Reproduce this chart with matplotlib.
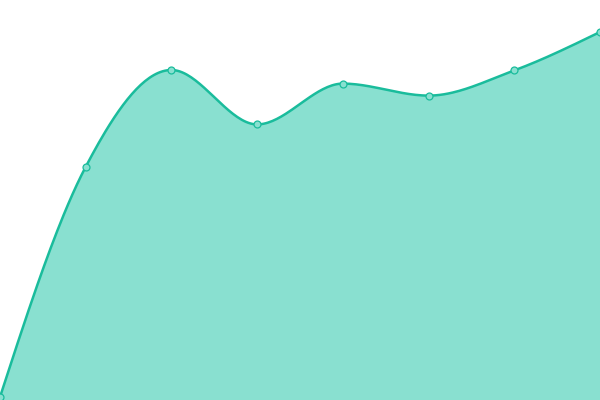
import numpy as np
import matplotlib
matplotlib.use("Agg")
import matplotlib.pyplot as plt

categories = ["1", "2", "3", "4", "5", "6", "7", "8"]
values = [0.75, 58.3, 82.5, 68.9, 79.1, 76.1, 82.4, 92.0]

line_color = "#1abc9c"
fill_color = "#89e0d0"


def monotone_curve(xv, yv, steps=40):
    # monotone cubic (like d3 curveMonotoneX)
    xv = np.asarray(xv, float)
    yv = np.asarray(yv, float)
    n = len(xv)
    h = np.diff(xv)
    s = np.diff(yv) / h
    tang = np.zeros(n)
    for i in range(1, n - 1):
        p = (s[i - 1] * h[i] + s[i] * h[i - 1]) / (h[i - 1] + h[i])
        tang[i] = (np.sign(s[i - 1]) + np.sign(s[i])) * min(abs(s[i - 1]), abs(s[i]), 0.5 * abs(p))
    tang[0] = (3 * s[0] - tang[1]) / 2
    tang[-1] = (3 * s[-1] - tang[-2]) / 2
    xs, ys = [], []
    t = np.linspace(0, 1, steps)
    for i in range(n - 1):
        dx = h[i] / 3
        p0 = np.array([xv[i], yv[i]])
        p1 = np.array([xv[i] + dx, yv[i] + dx * tang[i]])
        p2 = np.array([xv[i + 1] - dx, yv[i + 1] - dx * tang[i + 1]])
        p3 = np.array([xv[i + 1], yv[i + 1]])
        b = ((1 - t) ** 3)[:, None] * p0 + (3 * (1 - t) ** 2 * t)[:, None] * p1 \
            + (3 * (1 - t) * t ** 2)[:, None] * p2 + (t ** 3)[:, None] * p3
        xs.extend(b[:, 0])
        ys.extend(b[:, 1])
    return np.array(xs), np.array(ys)


fig = plt.figure(figsize=(6, 4), dpi=100)
ax = fig.add_axes([0, 0, 1, 1])
x = np.arange(len(categories))
ax.set_xlim(0, len(categories) - 1)
ax.set_ylim(0, 100)

cx, cy = monotone_curve(x, values)

ax.fill_between(cx, cy, 0, color=fill_color, linewidth=0)
ax.plot(cx, cy, color=line_color, linewidth=1.8, solid_capstyle="round", clip_on=False)
ax.plot(x, values, "o", markersize=5, markerfacecolor=fill_color,
        markeredgecolor=line_color, markeredgewidth=0.9, clip_on=False)
ax.axis("off")

fig.savefig("out.png", dpi=100)
